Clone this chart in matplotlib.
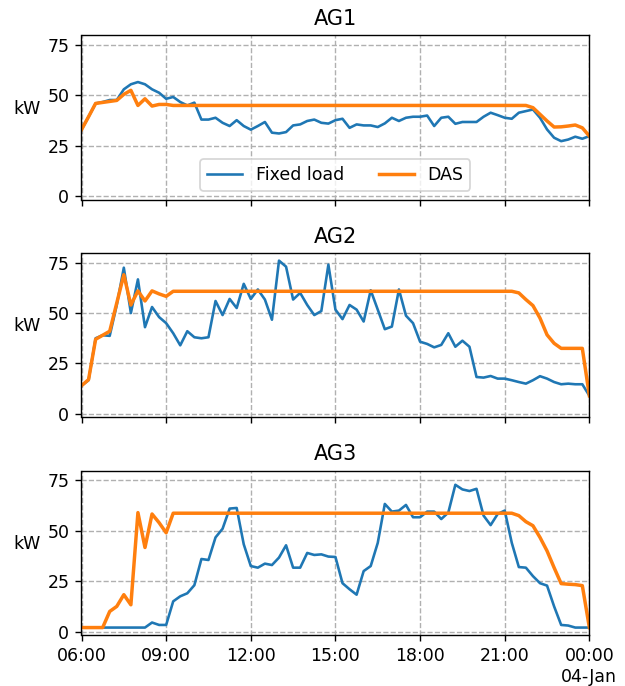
import numpy as np
import pandas as pd
import matplotlib
matplotlib.use('Agg')
import matplotlib.pyplot as plt
import matplotlib.dates as mdates
from matplotlib.ticker import FuncFormatter

# ---------------- data (15-minute resolution, 06:00 -> 00:00) ----------------
times = pd.date_range('2020-01-03 06:00', '2020-01-04 00:00', freq='15min')
titles = ['AG1', 'AG2', 'AG3']
series_names = ['Fixed load', 'DAS']
y_ticks = [0, 25, 50, 75]

ag1_fixed = [33, 39.4, 46, 46.7, 47.7, 47.7, 53, 55.5, 56.6, 55.5, 53, 51.3, 48.3, 49.2,
             46.7, 45, 46.4, 38, 38, 38.9, 36.4, 34.8, 37.7, 34.8, 33, 34.8, 36.8, 31.5,
             31.1, 31.8, 35.1, 35.6, 37.3, 38, 36.4, 36, 37.7,
             38.4, 33.9, 35.6, 35.1, 35.1, 34.3, 36.1, 38.9, 37.3, 38.9, 39.4, 39.4, 40,
             34.8, 38.9, 39.4, 35.9, 36.8, 36.8, 36.8, 39.4, 41.4, 40.2, 38.9, 38.4, 41.4,
             42.2, 43, 38.9, 33.1, 29, 27.3, 28.1, 29.5, 28.5, 29.8]
ag1_das = [33, 39.4, 46, 46.5, 47, 47.5, 50.5, 52.5, 45, 48.3, 44.7, 45.5, 45.5,
           45, 45, 45, 45, 45, 45, 45, 45, 45, 45, 45, 45, 45, 45, 45, 45, 45,
           45, 45, 45, 45, 45, 45, 45, 45, 45, 45, 45, 45, 45, 45, 45, 45, 45,
           45, 45, 45, 45, 45, 45, 45, 45, 45, 45, 45, 45, 45, 45, 45, 45, 45,
           43.9, 40.6, 37.3, 34.3, 34.4, 34.8, 35.3, 33.9, 29.8]

ag2_fixed = [14, 16.7, 37.5, 39, 38.7, 54, 72.5, 50, 66.7, 43, 53, 48, 45, 40, 34, 41,
             38, 37.5, 38, 56, 49, 57, 52.5, 64.5, 57, 61.7, 56.7, 46.7, 76, 73, 56.7,
             60, 54, 49, 51, 74,
             51.7, 47, 54, 51.7, 45.8, 61.3, 51.7, 42, 43.3, 61.7, 48.7, 45, 35.8, 34.7,
             33, 34.2, 40, 33.3, 36.3, 33.3, 18.3, 18, 18.8, 17.5, 17.5, 16.7, 15.8, 15,
             16.7, 18.7, 17.5, 15.8, 14.7, 15, 14.7, 14.7, 9]
ag2_das = [14, 17, 37, 39, 41, 55, 69, 54, 61, 56, 61, 59.5, 58.3,
           60.8, 60.8, 60.8, 60.8, 60.8, 60.8, 60.8, 60.8, 60.8, 60.8, 60.8, 60.8,
           60.8, 60.8, 60.8, 60.8, 60.8, 60.8, 60.8, 60.8, 60.8, 60.8, 60.8, 60.8,
           60.8, 60.8, 60.8, 60.8, 60.8, 60.8, 60.8, 60.8, 60.8, 60.8, 60.8, 60.8,
           60.8, 60.8, 60.8, 60.8, 60.8, 60.8, 60.8, 60.8, 60.8, 60.8, 60.8, 60.8,
           60.8, 60.0,
           56.7, 53.7, 47.5, 39.2, 35, 32.5, 32.5, 32.5, 32.5, 9]

ag3_fixed = [2, 2, 2, 2, 2, 2, 2, 2, 2, 2, 4.5, 3.3, 3.3, 15, 17.5, 19, 23, 36, 35.5,
             46.7, 51, 61, 61.3, 43.3, 32.5, 31.7, 33.7, 33, 36.7, 42.8, 31.7, 31.7, 39,
             38, 38.3, 37.2, 37, 24, 21, 18.3, 30, 32.5, 44, 63.3, 59.5, 60, 62.8, 56.7,
             56.7, 59.5, 59.5, 55.8, 59, 72.8, 70.5, 69.7, 70.8, 57.5, 52.8, 58.3, 60,
             44, 32, 31.7, 27.5, 24, 22.8, 12.5, 3.3, 3, 2, 2, 2]
ag3_das = [2, 2, 2, 2, 10, 12.5, 18.3, 13.3, 59, 41.7, 58.3, 54, 49,
           58.7, 58.7, 58.7, 58.7, 58.7, 58.7, 58.7, 58.7, 58.7, 58.7, 58.7, 58.7,
           58.7, 58.7, 58.7, 58.7, 58.7, 58.7, 58.7, 58.7, 58.7, 58.7, 58.7, 58.7,
           58.7, 58.7, 58.7, 58.7, 58.7, 58.7, 58.7, 58.7, 58.7, 58.7, 58.7, 58.7,
           58.7, 58.7, 58.7, 58.7, 58.7, 58.7, 58.7, 58.7, 58.7, 58.7, 58.7, 58.7,
           58.7, 57.5,
           54.5, 52.5, 46.7, 40, 31.7, 23.8, 23.5, 23.3, 22.8, 2]

fixed_all = [ag1_fixed, ag2_fixed, ag3_fixed]
das_all = [ag1_das, ag2_das, ag3_das]

# ---------------- figure ----------------
fig, axes = plt.subplots(3, 1, figsize=(5, 5.488), dpi=125, sharex=True, sharey=True)
fig.subplots_adjust(left=0.1304, right=0.943, bottom=0.0743, top=0.9483, hspace=0.326)

for ax, title, fixed, das in zip(axes, titles, fixed_all, das_all):
    ax.plot(times, fixed, color='#1f77b4', lw=1.5, label=series_names[0])
    ax.plot(times, das, color='#ff7f0e', lw=2.0, label=series_names[1])
    ax.set_title(title)
    ax.set_ylabel('kW', rotation=0, ha='right')
    ax.grid(True, linestyle='--', color='#b0b0b0', linewidth=0.8)
    ax.set_yticks(y_ticks)

axes[-1].set_xlim(times[0], times[-1])
axes[-1].set_ylim(-1.7, 79.7)
axes[-1].xaxis.set_major_locator(mdates.HourLocator(byhour=range(0, 24, 3)))


def fmt(x, pos):
    d = mdates.num2date(x)
    if d.hour == 0:
        return d.strftime('%H:%M') + '\n' + d.strftime('%d-%b')
    return d.strftime('%H:%M')


axes[-1].xaxis.set_major_formatter(FuncFormatter(fmt))
axes[0].legend(loc='lower center', ncol=2)

fig.savefig('out.png')
